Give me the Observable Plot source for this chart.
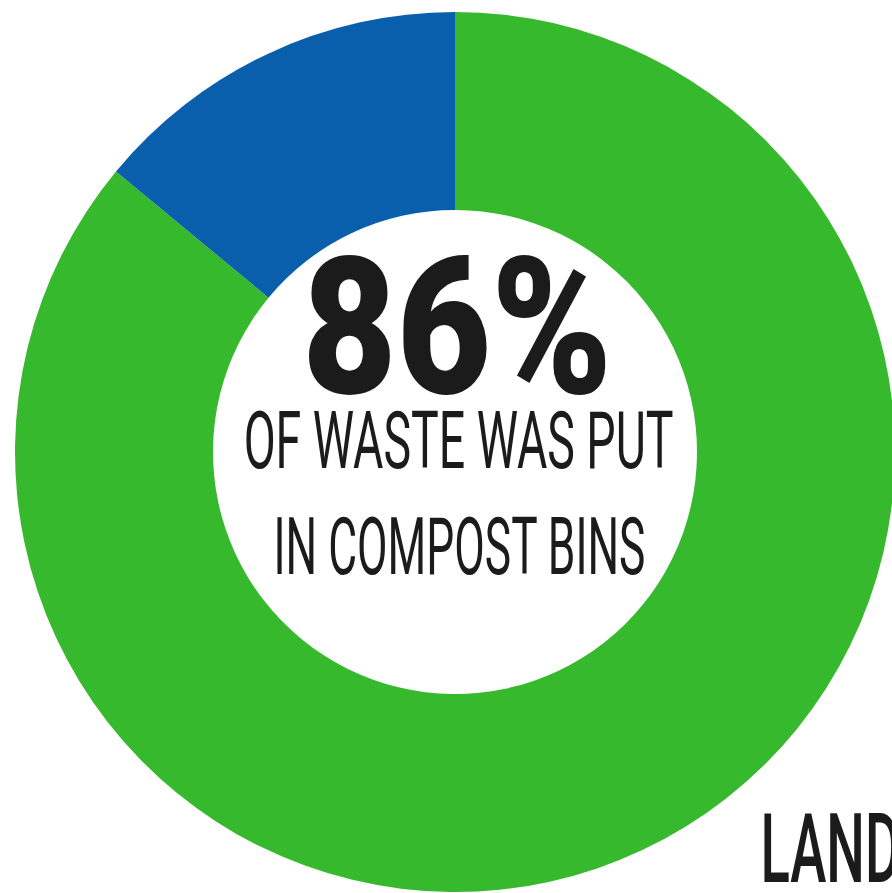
<!DOCTYPE html>
<html><head><meta charset="utf-8">
<style>html,body{margin:0;padding:0;background:#fff;overflow:hidden;} svg{display:block;}</style>
<script src="https://cdn.jsdelivr.net/npm/d3@7"></script>
<script src="https://cdn.jsdelivr.net/npm/@observablehq/plot@0.6"></script>
</head><body><div id="chart"></div>
<script>
// ---- data ----
const categories = ["Compost bins", "Landfill"];
const shares = [86, 14];
const sliceColors = ["#37b92d", "#0a5fad"];
const headline = "86%";
const subLines = ["OF WASTE WAS PUT", "IN COMPOST BINS"];
const sideLabel = "LANDFILL";

const slices = categories.map((c, i) => ({category: c, share: shares[i], color: sliceColors[i]}));
const innerRatio = 0.55;

function donut(index, scales) {
  const cx = scales.x(0), cy = scales.y(0);
  const r = scales.x(1) - cx;
  const pie = d3.pie().sort(null).value(d => d.share);
  const arc = d3.arc().innerRadius(r * innerRatio).outerRadius(r);
  const g = d3.create("svg:g").attr("transform", `translate(${cx},${cy})`);
  g.selectAll("path").data(pie(slices)).join("path")
    .attr("d", arc).attr("fill", d => d.data.color);
  return g.node();
}

const font = "Roboto, 'DejaVu Sans', sans-serif";
const ink = "#1b1b1b";

const chart = Plot.plot({
  width: 892, height: 893,
  margin: 0,
  x: {domain: [-1, 1], range: [15, 895], axis: null},
  y: {domain: [-1, 1], range: [892, 12], axis: null},
  marks: [
    donut,
    Plot.text([headline], {x: 0.004, y: 0.136, text: d => d, fontSize: 192, fontWeight: 900, fontFamily: font, fill: ink, lineAnchor: "bottom", textAnchor: "middle"}),
    Plot.text([subLines[0]], {x: 0.007, y: -0.036, text: d => d, fontSize: 80, fontWeight: 400, fontFamily: font, fill: ink, lineAnchor: "bottom", textAnchor: "middle"}),
    Plot.text([subLines[1]], {x: 0.009, y: -0.275, text: d => d, fontSize: 80, fontWeight: 400, fontFamily: font, fill: ink, lineAnchor: "bottom", textAnchor: "middle"}),
    Plot.text([sideLabel], {x: 0.693, y: -0.975, text: d => d, fontSize: 96, fontWeight: 500, fontFamily: font, fill: ink, lineAnchor: "bottom", textAnchor: "start"})
  ]
});
document.getElementById("chart").append(chart);

// condense the lettering horizontally to match the narrow display face
const widths = new Map([[headline, 310], [subLines[0], 430], [subLines[1], 372]]);
d3.select(chart).selectAll("text").each(function() {
  const t = this.textContent;
  let w, target;
  if (t === sideLabel) { w = this.getSubStringLength(0, 4); target = 140; }
  else if (widths.has(t)) { w = this.getComputedTextLength(); target = widths.get(t); }
  else return;
  const s = target / w;
  const tr = this.getAttribute("transform") || "";
  this.setAttribute("transform", tr + ` scale(${s},1)`);
});
</script>
</body></html>
